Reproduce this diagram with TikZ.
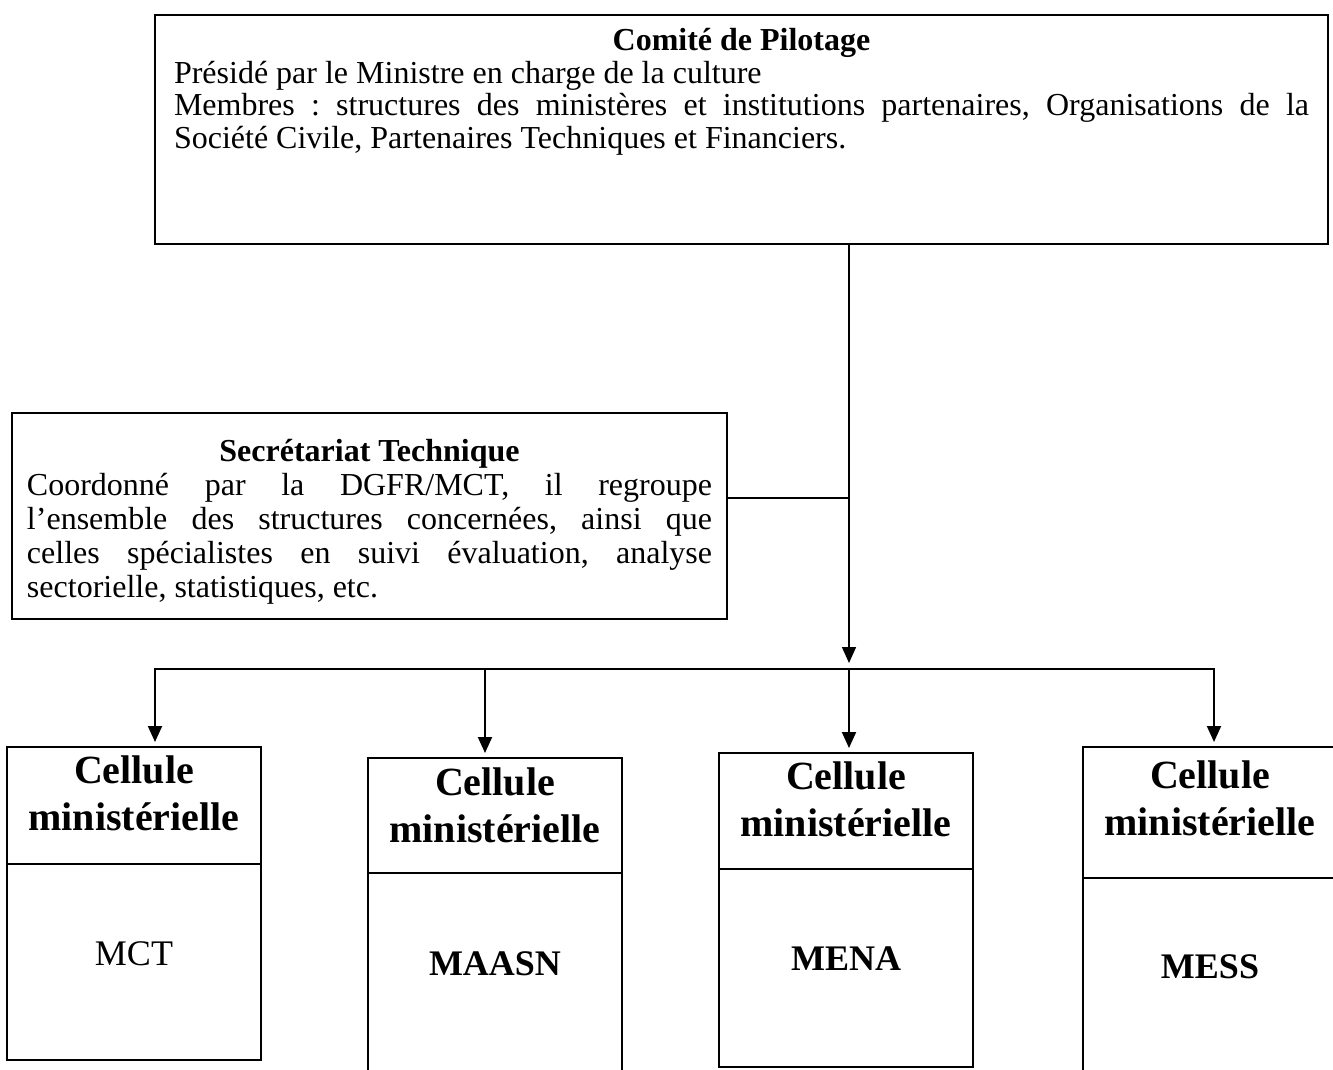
\documentclass[tikz,border=0pt]{standalone}
\usepackage{fontspec}
\setmainfont{Liberation Serif}
\usetikzlibrary{positioning,arrows.meta}
\setlength{\parindent}{0pt}
\frenchspacing

\begin{document}
\begin{tikzpicture}[x=1pt,y=-1pt]
\tikzstyle{every node}=[inner sep=0pt, outer sep=0pt]
\tikzstyle{textbox}=[draw, line width=1.2pt, anchor=north west, align=justify, font=\fontsize{32}{32.5}\selectfont]
\tikzstyle{cellhead}=[draw, line width=2.5pt, anchor=north west, minimum width=254pt, align=center, font=\fontsize{40}{47}\selectfont\bfseries]
\tikzstyle{cellbody}=[draw, line width=2.5pt, minimum width=254pt, font=\fontsize{36}{40}\selectfont\bfseries]
\tikzstyle{link}=[line width=2pt, line cap=rect]
\tikzstyle{arrow}=[line width=2pt, -{Triangle[width=14pt,length=16pt]}]
\useasboundingbox (0,0) rectangle (1333,1070);
% comite de pilotage
  \node[textbox, text width=1135pt, inner xsep=19pt, text height=36pt, text depth=193pt] (comite) at (155,15)%
{%
  {\centering\bfseries Comité de Pilotage\par}
  Présidé par le Ministre en charge de la culture\par
  Membres : structures des ministères et institutions partenaires, Organisations de la\linebreak
  Société Civile, Partenaires Techniques et Financiers.
};
% secretariat technique
  \node[textbox, text width=685pt, inner xsep=15pt, text height=48pt, text depth=158pt, font=\fontsize{32}{34}\selectfont] (secretariat) at (12,413)%
{%
  {\centering\bfseries Secrétariat Technique\par}
  Coordonné par la DGFR/MCT, il regroupe\linebreak
  l'ensemble des structures concernées, ainsi que\linebreak
  celles spécialistes en suivi évaluation, analyse\linebreak
  sectorielle, statistiques, etc.
};
% cellules ministerielles
  \node[cellhead, text height=83pt, text depth=34pt] (head1) at (7,747) {Cellule\\ministérielle};
  \node[cellbody, below=0pt of head1, text height=101pt, text depth=95pt, font=\fontsize{36}{40}\selectfont] (body1) {MCT};
  \node[cellhead, text height=84pt, text depth=31pt] (head2) at (368,758) {Cellule\\ministérielle};
  \node[cellbody, below=0pt of head2, text height=102pt, text depth=120pt] (body2) {MAASN};
  \node[cellhead, text height=83pt, text depth=33pt] (head3) at (719,753) {Cellule\\ministérielle};
  \node[cellbody, below=0pt of head3, text height=101pt, text depth=97pt] (body3) {MENA};
  \node[cellhead, text height=88pt, text depth=43pt] (head4) at (1083,747) {Cellule\\ministérielle};
  \node[cellbody, below=0pt of head4, text height=100pt, text depth=117pt] (body4) {MESS};
% liaisons
  \coordinate (tip) at (849,663);
  \coordinate (join) at (849,498);
  \draw[arrow, line width=1.5pt] (comite.south -| tip) -- (tip);
  \draw[line width=1.2pt] (secretariat.east |- join) -- (join);
  \coordinate (bus1) at (155,669);
  \coordinate (bus2) at (485,669);
  \coordinate (bus3) at (849,669);
  \coordinate (bus4) at (1214,669);
  \draw[link] (bus1) -- (bus4);
  \foreach \i in {1,...,4}
    \draw[arrow] (bus\i) -- ([yshift=5pt]bus\i |- head\i.north);
\end{tikzpicture}
\end{document}
